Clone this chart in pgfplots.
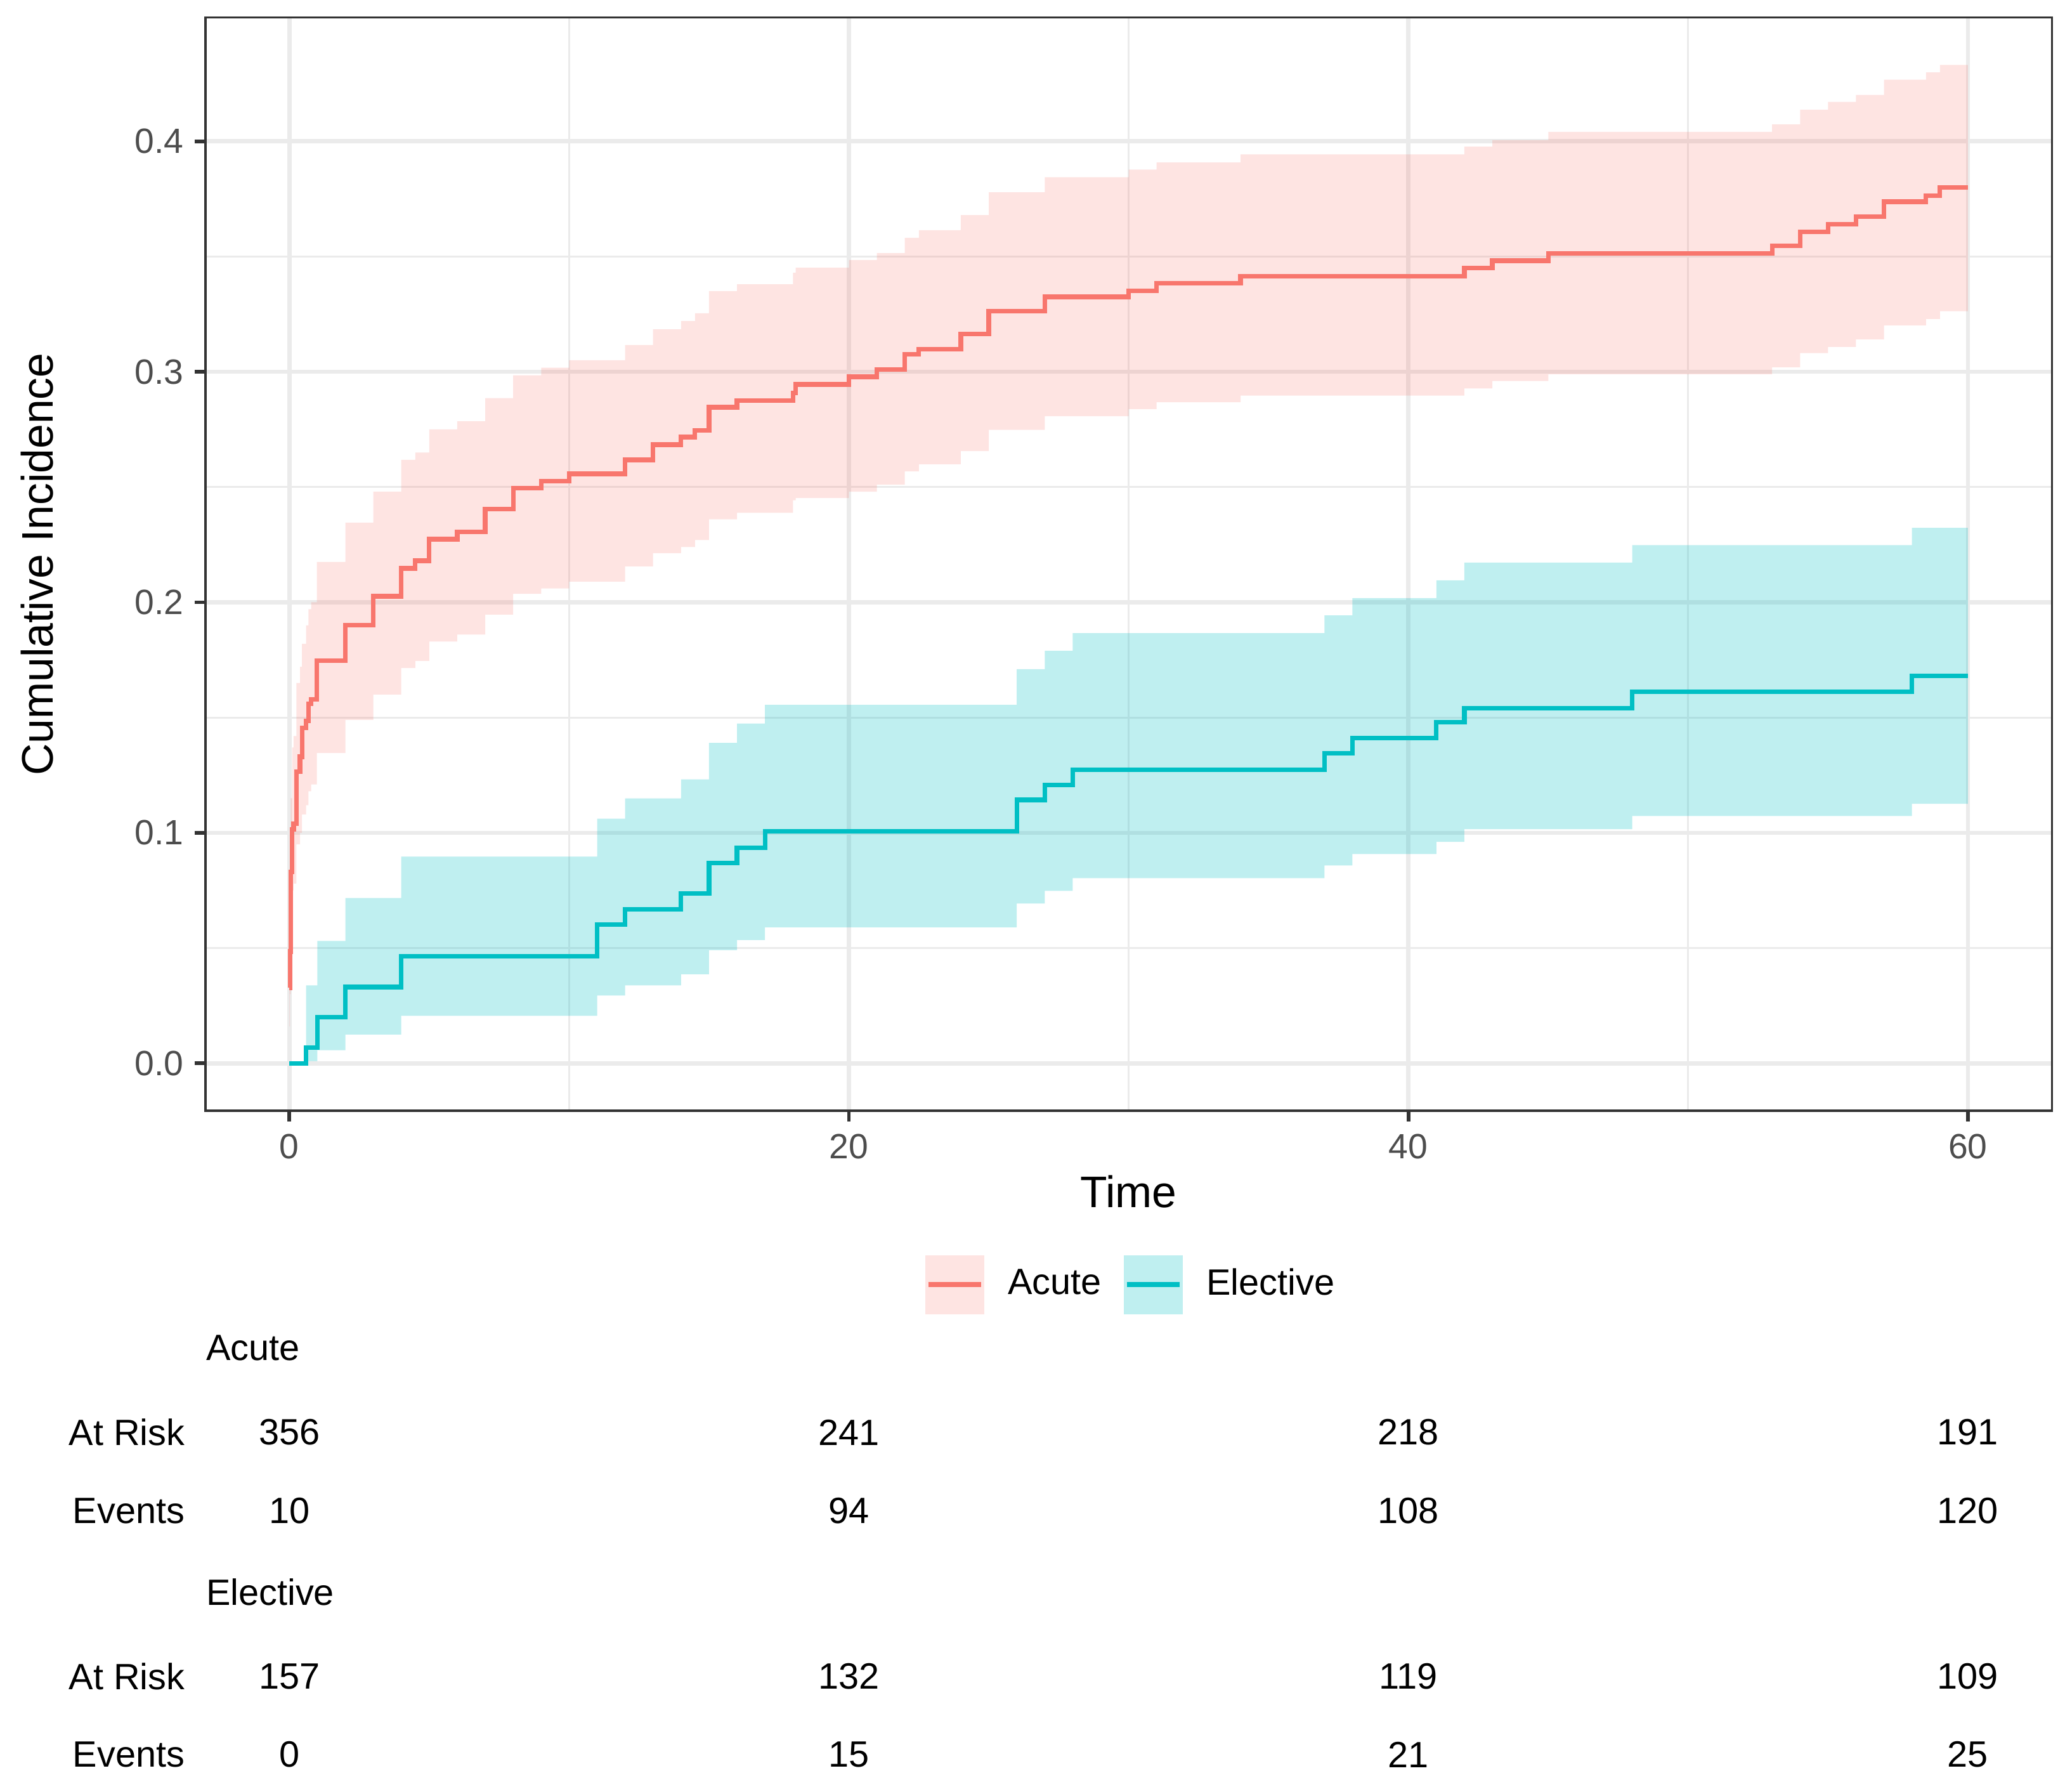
\documentclass[border=0pt]{standalone}
\usepackage{pgfplots}
\pgfplotsset{compat=1.18}
\usepgfplotslibrary{fillbetween}
\usepackage{pgfplotstable}
\usepackage{fontspec}
\setmainfont{Liberation Sans}
\definecolor{acute}{HTML}{F8766D}
\definecolor{elective}{HTML}{00BFC4}
\definecolor{gridc}{HTML}{EBEBEB}
\definecolor{tickc}{HTML}{4D4D4D}
\definecolor{borderc}{HTML}{333333}
\newcommand{\tabfont}{\fontsize{9.6}{11}\selectfont}
\newcommand{\titlefont}{\fontsize{11.6}{14}\selectfont}

\pgfplotstableread{
t est lo hi
0 0.0328 0.016 0.050
0.02 0.0485 0.030 0.075
0.05 0.083 0.060 0.115
0.10 0.1015 0.075 0.137
0.15 0.104 0.078 0.142
0.25 0.1266 0.095 0.165
0.38 0.133 0.100 0.172
0.45 0.1455 0.108 0.182
0.60 0.1485 0.112 0.190
0.68 0.156 0.118 0.197
0.78 0.158 0.121 0.200
0.98 0.1746 0.1346 0.2175
2 0.190 0.149 0.2346
3 0.2026 0.160 0.248
4 0.2147 0.1715 0.2618
4.5 0.218 0.1746 0.265
5 0.2274 0.183 0.275
6 0.2305 0.186 0.2785
7 0.2404 0.1947 0.2886
8 0.2496 0.2037 0.2985
9 0.2526 0.206 0.3018
10 0.2557 0.209 0.305
12 0.2618 0.2156 0.3116
13 0.2684 0.2213 0.3184
14 0.2717 0.224 0.322
14.5 0.2746 0.227 0.3254
15 0.2846 0.236 0.335
16 0.2875 0.2388 0.338
18 0.2908 0.2443 0.343
18.1 0.2945 0.2452 0.3452
20 0.2978 0.248 0.3485
21 0.3011 0.2511 0.3515
22 0.3077 0.2568 0.3581
22.5 0.3099 0.2599 0.3614
24 0.3164 0.2656 0.368
25 0.3263 0.2748 0.3779
27 0.3325 0.2807 0.3844
30 0.3351 0.2838 0.3877
31 0.3384 0.2868 0.3908
34 0.3414 0.2897 0.3943
42 0.345 0.2928 0.3977
43 0.3482 0.2960 0.4005
45 0.3514 0.2989 0.4041
53 0.3546 0.3019 0.4073
54 0.3608 0.3081 0.4137
55 0.364 0.3108 0.4171
56 0.3674 0.314 0.4201
57 0.3738 0.3201 0.4267
58.5 0.3765 0.3229 0.4299
59 0.3799 0.3263 0.4331
60 0.3799 0.3263 0.4331
}\acutedata

\pgfplotstableread{
t est lo hi
0 0 0 0
0.6 0.0068 0.0009 0.0338
1.0 0.020 0.0057 0.0531
2 0.0331 0.0125 0.0717
4 0.0465 0.0206 0.0897
11 0.0601 0.0294 0.1061
12 0.0667 0.0338 0.1149
14 0.0737 0.0386 0.1232
15 0.087 0.0491 0.139
16 0.0936 0.0535 0.1474
17 0.1007 0.059 0.1555
26 0.1143 0.0693 0.171
27 0.1208 0.0748 0.179
28 0.1274 0.0803 0.1866
37 0.1344 0.0858 0.1943
38 0.141 0.0908 0.2018
41 0.1479 0.0961 0.2095
42 0.154 0.1016 0.2172
48 0.1611 0.1073 0.2248
58 0.168 0.1126 0.2323
60 0.168 0.1126 0.2323
}\electivedata

\begin{document}
\begin{tikzpicture}
\begin{axis}[
  at={(53.93pt,178.62pt)}, anchor=south west,
  scale only axis, width=484.67pt, height=286.93pt,
  xmin=-3, xmax=63, ymin=-0.0206, ymax=0.4537,
  xtick={0,20,40,60}, minor xtick={10,30,50},
  ytick={0,0.1,0.2,0.3,0.4}, minor ytick={0.05,0.15,0.25,0.35},
  grid=both,
  major grid style={gridc, line width=1.1pt},
  minor grid style={gridc, line width=0.55pt},
  axis line style={borderc, line width=0.55pt},
  tick align=outside, tick pos=left,
  major tick length=2.8pt, minor tick length=0pt,
  major tick style={borderc, line width=0.95pt},
  /pgf/number format/assume math mode=true,
  ticklabel style={font=\fontsize{9.2}{11}\selectfont, text=tickc, inner sep=0pt},
  xticklabel style={anchor=north, yshift=-3.2pt},
  yticklabel style={anchor=east, xshift=-2.8pt, /pgf/number format/.cd, fixed, fixed zerofill, precision=1},
  xlabel={Time}, ylabel={Cumulative Incidence},
  every axis x label/.style={at={(axis description cs:0.5,0)}, anchor=center, yshift=-21.3pt, font=\titlefont},
  every axis y label/.style={at={(axis description cs:-0.0913,0.5)}, anchor=center, rotate=90, font=\titlefont},
  clip=false,
  legend columns=2,
  legend cell align=left,
  legend style={at={(axis description cs:0.5007,-0.159)}, anchor=center, draw=none, fill=none,
    font=\tabfont, inner sep=0pt, outer sep=0pt,
    nodes={inner sep=0pt},
    /tikz/every odd column/.append style={column sep=6.2pt},
    /tikz/every even column/.append style={column sep=5.9pt}},
]
% bands
\addplot[name path=au, draw=none, const plot, forget plot] table[x=t,y=hi] {\acutedata};
\addplot[name path=al, draw=none, const plot, forget plot] table[x=t,y=lo] {\acutedata};
\addplot[fill=acute, fill opacity=0.2, draw=none, forget plot] fill between[of=au and al];
\addplot[name path=eu, draw=none, const plot, forget plot] table[x=t,y=hi] {\electivedata};
\addplot[name path=el, draw=none, const plot, forget plot] table[x=t,y=lo] {\electivedata};
\addplot[fill=elective, fill opacity=0.25, draw=none, forget plot] fill between[of=eu and el];
% lines
\addplot[acute, line width=1.2pt, const plot, legend image code/.code={
  \path[fill=acute, fill opacity=0.2, draw=none] (0pt,-7.75pt) rectangle (15.5pt,7.75pt);
  \path[draw=acute, line width=1.4pt] (0.8pt,0pt) -- (14.7pt,0pt);
}] table[x=t,y=est] {\acutedata};
\addlegendentry{Acute}
\addplot[elective, line width=1.2pt, const plot, legend image code/.code={
  \path[fill=elective, fill opacity=0.25, draw=none] (0pt,-7.75pt) rectangle (15.5pt,7.75pt);
  \path[draw=elective, line width=1.4pt] (0.8pt,0pt) -- (14.7pt,0pt);
}] table[x=t,y=est] {\electivedata};
\addlegendentry{Elective}
% risk table
\node[anchor=west, font=\tabfont, inner sep=0pt] at (axis cs:-3,-0.1236) {Acute};
\node[anchor=east, font=\tabfont, inner sep=0pt] at (axis cs:-3.716,-0.1601) {At Risk};
\node[anchor=east, font=\tabfont, inner sep=0pt] at (axis cs:-3.716,-0.1941) {Events};
\node[font=\tabfont, inner sep=0pt] at (axis cs:0,-0.1601) {356};
\node[font=\tabfont, inner sep=0pt] at (axis cs:20,-0.1601) {241};
\node[font=\tabfont, inner sep=0pt] at (axis cs:40,-0.1601) {218};
\node[font=\tabfont, inner sep=0pt] at (axis cs:60,-0.1601) {191};
\node[font=\tabfont, inner sep=0pt] at (axis cs:0,-0.1941) {10};
\node[font=\tabfont, inner sep=0pt] at (axis cs:20,-0.1941) {94};
\node[font=\tabfont, inner sep=0pt] at (axis cs:40,-0.1941) {108};
\node[font=\tabfont, inner sep=0pt] at (axis cs:60,-0.1941) {120};
\node[anchor=west, font=\tabfont, inner sep=0pt] at (axis cs:-3,-0.2293) {Elective};
\node[anchor=east, font=\tabfont, inner sep=0pt] at (axis cs:-3.716,-0.2659) {At Risk};
\node[anchor=east, font=\tabfont, inner sep=0pt] at (axis cs:-3.716,-0.2999) {Events};
\node[font=\tabfont, inner sep=0pt] at (axis cs:0,-0.2659) {157};
\node[font=\tabfont, inner sep=0pt] at (axis cs:20,-0.2659) {132};
\node[font=\tabfont, inner sep=0pt] at (axis cs:40,-0.2659) {119};
\node[font=\tabfont, inner sep=0pt] at (axis cs:60,-0.2659) {109};
\node[font=\tabfont, inner sep=0pt] at (axis cs:0,-0.2999) {0};
\node[font=\tabfont, inner sep=0pt] at (axis cs:20,-0.2999) {15};
\node[font=\tabfont, inner sep=0pt] at (axis cs:40,-0.2999) {21};
\node[font=\tabfont, inner sep=0pt] at (axis cs:60,-0.2999) {25};
\end{axis}
\pgfresetboundingbox
\useasboundingbox (0,0) rectangle (542.06pt,470.15pt);
\end{tikzpicture}
\end{document}
